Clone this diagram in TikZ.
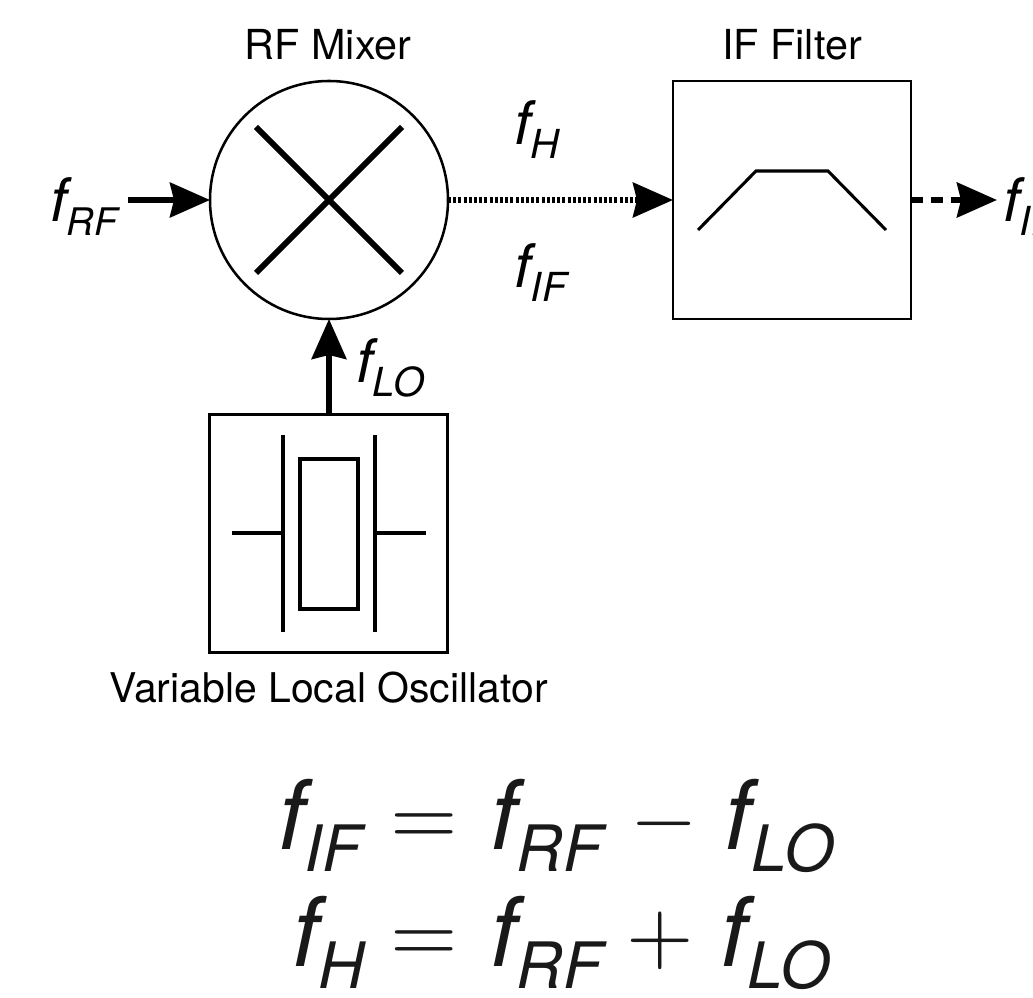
\documentclass[tikz,border=0pt]{standalone}
\usepackage{graphicx}
\usepackage{fontspec}
\setmainfont{TeX Gyre Heros}
\usetikzlibrary{arrows.meta}
\newcommand{\lblf}[2][30]{{\fontsize{45}{45}\selectfont\itshape f}\raisebox{-10.5pt}{\fontsize{#1}{#1}\selectfont\itshape #2}}
\newcommand{\eqf}[1]{{\fontsize{72}{72}\selectfont\itshape f}\raisebox{-17pt}{\fontsize{48}{48}\selectfont\itshape #1}}
\newcommand{\opbox}[2]{\makebox[#1][l]{\raisebox{2.5pt}{\scalebox{6.5}{$#2$}}}}
\tikzset{
  x=0.75pt,y=-0.75pt,
  thin line/.style={line width=1.9pt},
  sym line/.style={line width=2.3pt,line cap=butt},
  blockbox/.style={draw,thin line,minimum width=178.5pt,minimum height=178.5pt,inner sep=0pt,outer sep=0pt},
  mixercircle/.style={draw,thin line,circle,minimum size=178.5pt,inner sep=0pt,outer sep=0pt},
  conn/.style={line width=4.2pt,-{Stealth[length=30pt,width=26pt,inset=3pt]}},
  title/.style={font=\fontsize{31}{31}\selectfont,anchor=base,inner sep=0pt},
  flabel/.style={anchor=base west,inner sep=0pt},
  eqline/.style={anchor=base west,inner sep=0pt,text=black!90},
}
\begin{document}
\begin{tikzpicture}
\useasboundingbox (0,0) rectangle (1033,998);
\clip (0,0) rectangle (1033,998);
\node[mixercircle] (mixer) at (329,200) {};
\node[blockbox] (filter) at (792,200) {};
\node[blockbox] (lo) at (328.5,533.5) {};
% mixer cross
\draw[line width=4.5pt] (256,127) -- (402,273) (402,127) -- (256,273);
% band-pass curve
\draw[sym line,line join=miter] (698,230) -- (756,171) -- (828,171) -- (886,230);
% crystal symbol
\draw[sym line] (283,435) -- (283,632) (375,435) -- (375,632);
\draw[sym line] (300,459) rectangle (358,609);
\draw[sym line] (232,533) -- (283,533) (375,533) -- (426,533);
% connectors
\coordinate (rfin) at (128,200);
\coordinate (ifout) at (997,200);
\draw[conn] (rfin) -- (mixer.west);
\draw[conn] (lo.north -| mixer.south) -- (mixer.south);
\draw[conn,dash pattern=on 2.2pt off 1.7pt] (mixer.east) -- (filter.west);
\draw[conn,line width=4.5pt,dash pattern=on 9pt off 6pt] (filter.east) -- (ifout);
% titles
\node[title] (t1) at (328,60) {RF Mixer};
\node[title] (t2) at (792,60) {IF Filter};
\node[title,font=\fontsize{30.7}{31}\selectfont] (t3) at (328.5,703) {Variable Local Oscillator};
% labels
\node[flabel] (l1) at (50,222) {\lblf[28.5]{RF}};
\node[flabel] (l2) at (514,145) {\lblf{H}};
\node[flabel] (l3) at (514,288) {\lblf{IF}};
\node[flabel] (l4) at (356,383) {\lblf{LO}};
\node[flabel] (l5) at (1003,222) {\lblf{IF}};
% equations
\node[eqline] (e1) at (278,849) {\makebox[84pt][l]{\eqf{IF}}\opbox{75pt}{=}\makebox[105pt][l]{\eqf{RF}}\opbox{71pt}{-}\eqf{LO}};
\node[eqline] (e2) at (292,966) {\makebox[73.5pt][l]{\eqf{H}}\opbox{75pt}{=}\makebox[102pt][l]{\eqf{RF}}\opbox{71pt}{+}\eqf{LO}};
\end{tikzpicture}
\end{document}
